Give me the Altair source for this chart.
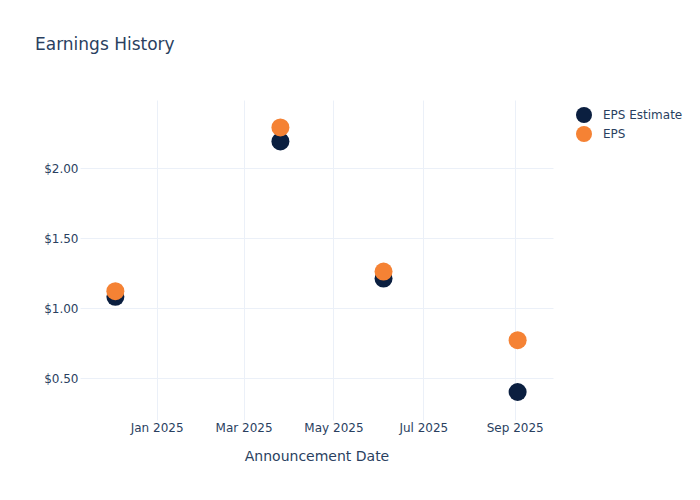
import altair as alt
import pandas as pd

dates = ["2024-12-04", "2025-03-26", "2025-06-04", "2025-09-03"]
eps_estimate = [1.08, 2.19, 1.21, 0.40]
eps_actual = [1.12, 2.29, 1.26, 0.77]
series_names = ["EPS Estimate", "EPS"]
series_colors = ["#0b1f40", "#f58234"]

rows = []
for d, v in zip(dates, eps_estimate):
    rows.append({"date": d, "value": v, "series": series_names[0], "order": 0})
for d, v in zip(dates, eps_actual):
    rows.append({"date": d, "value": v, "series": series_names[1], "order": 1})
df = pd.DataFrame(rows)

font = "DejaVu Sans"
txt = "#2a3f5f"
grid = "#ebf0f8"

chart = alt.Chart(df).mark_circle(size=324, opacity=1).encode(
    x=alt.X("date:T", title="Announcement Date",
            scale=alt.Scale(domain=["2024-11-10", "2025-09-27"], nice=False),
            axis=alt.Axis(format="%b %Y",
                          values=["2025-01-01", "2025-03-01", "2025-05-01", "2025-07-01", "2025-09-01"],
                          labelPadding=2, titlePadding=16)),
    y=alt.Y("value:Q", title=None,
            scale=alt.Scale(domain=[0.2, 2.486], nice=False, zero=False),
            axis=alt.Axis(format="$.2f", values=[0.5, 1.0, 1.5, 2.0], labelPadding=2)),
    color=alt.Color("series:N", sort=series_names,
                    scale=alt.Scale(domain=series_names, range=series_colors),
                    legend=alt.Legend(title=None, orient="none", legendX=495, legendY=6,
                                      symbolSize=256, symbolType="circle", labelFontSize=12,
                                      labelFont=font, labelColor=txt, rowPadding=2,
                                      labelOffset=10, padding=0)),
    order=alt.Order("order:Q"),
).properties(
    width=473, height=320,
    title=alt.TitleParams("Earnings History", anchor="start", frame="group", dx=-45, dy=-42,
                          fontSize=17, font=font, color=txt, fontWeight="normal"),
    autosize="none",
    padding={"left": 72, "top": 92, "right": 139, "bottom": 72},
).configure_view(stroke=None).configure_axis(
    domain=False, ticks=False, gridColor=grid, gridWidth=1,
    labelFont=font, labelFontSize=12, labelColor=txt,
    titleFont=font, titleFontSize=14, titleColor=txt, titleFontWeight="normal",
)

chart.save("out.html", embed_options={"renderer": "svg", "actions": False})
